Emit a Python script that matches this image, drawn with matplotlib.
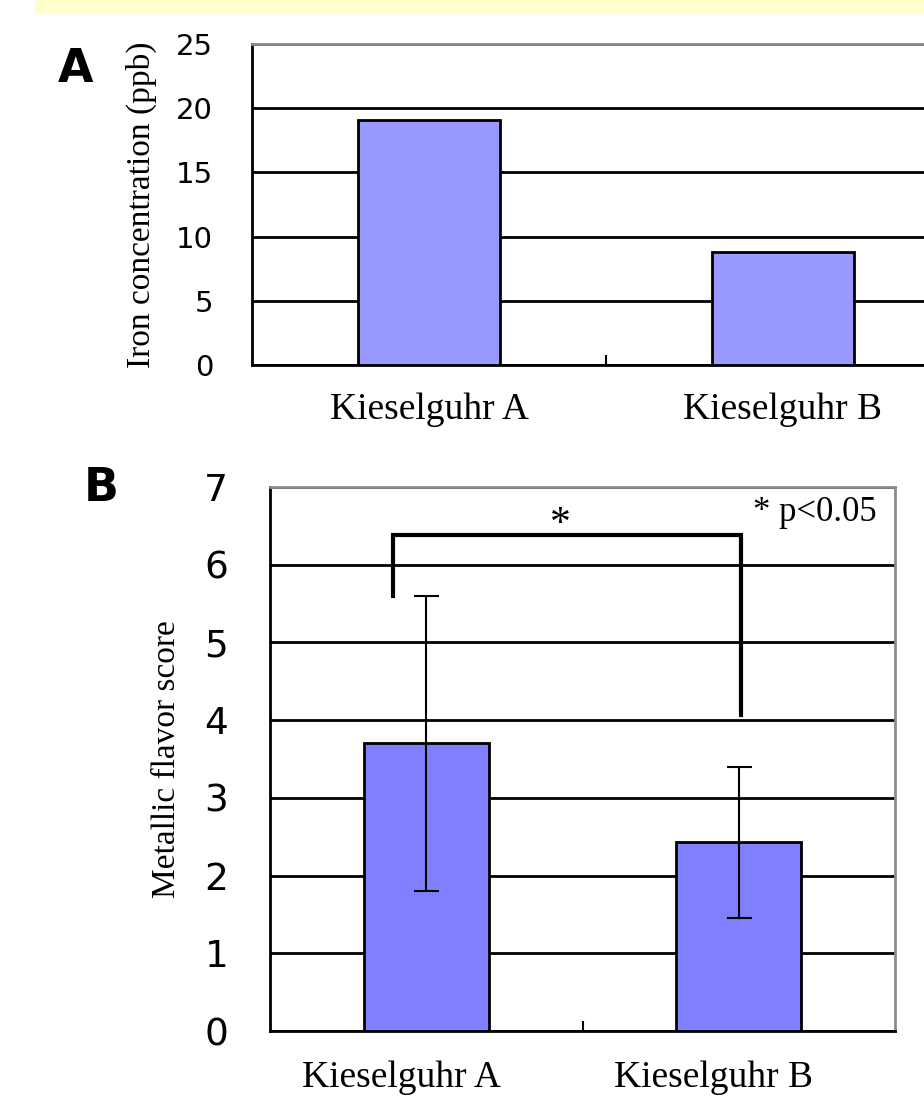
import matplotlib.pyplot as plt
from matplotlib.patches import Rectangle

# data
categories = ['Kieselguhr A', 'Kieselguhr B']
iron_ppb = [19.1, 8.8]
metallic_score = [3.7, 2.43]
metallic_err = [1.9, 0.97]
bracket_y = 6.38
bracket_left_bottom = 5.6
bracket_right_bottom = 4.06

W, H = 924, 1098
fig = plt.figure(figsize=(W / 100, H / 100), dpi=100)

serif = 'Liberation Serif'
sans = 'DejaVu Sans'


def px_axes(left, top, right, bottom):
    return fig.add_axes([left / W, 1 - bottom / H, (right - left) / W, (bottom - top) / H])


def style(ax, ymax, step, tick_size, pad):
    ax.set_ylim(0, ymax)
    ax.set_xlim(-0.5, 1.5)
    ax.set_yticks(range(0, ymax + 1, step))
    ax.yaxis.grid(True, color='black', lw=2)
    ax.set_axisbelow(True)
    for s in ['left', 'bottom']:
        ax.spines[s].set_color('black')
        ax.spines[s].set_linewidth(2)
    for s in ['top', 'right']:
        ax.spines[s].set_color('#8c8c8c')
        ax.spines[s].set_linewidth(2)
    ax.tick_params(axis='y', length=0, pad=pad, labelsize=tick_size)
    for t in ax.get_yticklabels():
        t.set_fontfamily(sans)
    ax.set_xticks([0.5])
    ax.set_xticklabels([''])
    ax.tick_params(axis='x', direction='in', length=7, width=1.5, color='black')


# yellow band at the top
fig.patches.append(Rectangle((35 / W, 1 - 14 / H), 1, 14 / H, transform=fig.transFigure,
                             facecolor='#ffffcc', edgecolor='none'))

# panel A
axA = px_axes(252, 44, 960, 365)
style(axA, 25, 5, 21, 28)
axA.bar([0, 1], iron_ppb, width=0.4, color='#9999ff', edgecolor='black', lw=2, zorder=3)
axA.set_ylabel('Iron concentration (ppb)', fontfamily=serif, fontsize=24, labelpad=14)
for i, c in enumerate(categories):
    axA.text(i, -3.5, c, ha='center', va='center', fontfamily=serif, fontsize=27)
fig.text(76 / W, 1 - 70 / H, 'A', ha='center', va='center', fontsize=33,
         fontweight='bold', fontfamily=sans)

# panel B
axB = px_axes(270, 487, 895, 1031)
style(axB, 7, 1, 27, 30)
axB.bar([0, 1], metallic_score, width=0.4, color='#8080ff', edgecolor='black', lw=2, zorder=3)
axB.errorbar([0, 1], metallic_score, yerr=metallic_err, fmt='none', ecolor='black',
             elinewidth=1.5, capsize=9, capthick=1.5, zorder=4)
axB.set_ylabel('Metallic flavor score', fontfamily=serif, fontsize=24, labelpad=16)
for i, c in enumerate(categories):
    axB.text(i - 0.08, -0.6, c, ha='center', va='center', fontfamily=serif, fontsize=27)

xl, xr = -0.106, 1.007
axB.plot([xl, xl, xr, xr], [bracket_left_bottom, bracket_y, bracket_y, bracket_right_bottom],
         color='black', lw=3, zorder=5, solid_joinstyle='miter')
axB.text(0.43, 6.52, '*', ha='center', va='center', fontfamily=serif, fontsize=30)
axB.text(1.44, 6.88, '* p<0.05', ha='right', va='top', fontfamily=serif, fontsize=25)
fig.text(101 / W, 1 - 489 / H, 'B', ha='center', va='center', fontsize=33,
         fontweight='bold', fontfamily=sans)

fig.savefig('out.png', dpi=100)
